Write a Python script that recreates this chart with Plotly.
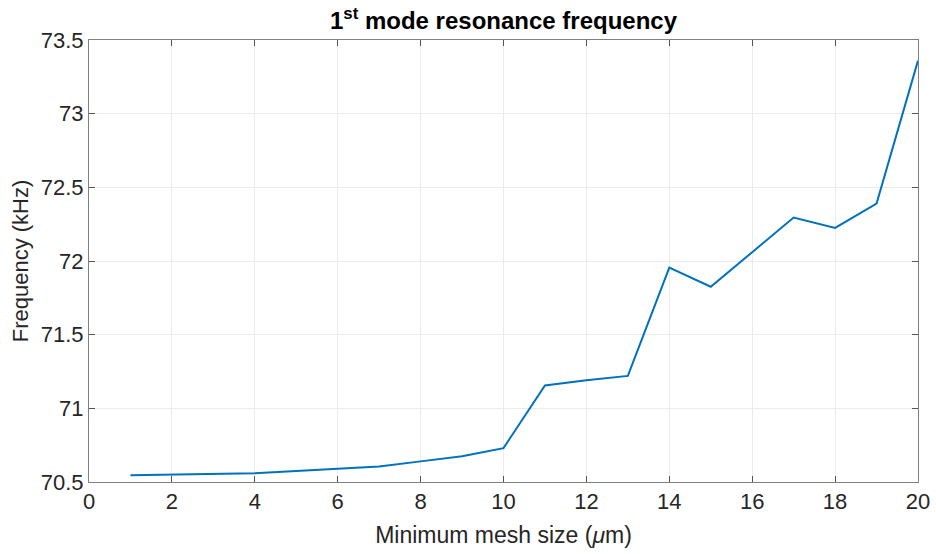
import plotly.graph_objects as go

mesh_size = [1, 2, 3, 4, 5, 6, 7, 8, 9, 10, 11, 12, 13, 14, 15, 16, 17, 18, 19, 20]
frequency = [70.545, 70.55, 70.55, 70.56, 70.575, 70.59, 70.605, 70.64, 70.675, 70.73,
             71.155, 71.19, 71.22, 71.955, 71.825, 72.06, 72.295, 72.225, 72.39, 73.36]

x_ticks = [0, 2, 4, 6, 8, 10, 12, 14, 16, 18, 20]
y_ticks = [70.5, 71, 71.5, 72, 72.5, 73, 73.5]
y_ticktext = ["70.5", "71", "71.5", "72", "72.5", "73", "73.5"]

font_family = "Liberation Sans, Arial, sans-serif"
axis_color = "#262626"

fig = go.Figure()
fig.add_trace(go.Scatter(x=mesh_size, y=frequency, mode="lines",
                         line=dict(color="#0072BD", width=2)))

axis_common = dict(showline=True, linecolor="#808080", linewidth=1, mirror="ticks",
                   ticks="inside", ticklen=6, tickcolor="#555555",
                   showgrid=True, gridcolor="#ebebeb", gridwidth=1, zeroline=False,
                   automargin=False,
                   tickfont=dict(family=font_family, size=22, color=axis_color))

fig.update_layout(
    width=936, height=554,
    margin=dict(l=89, r=18, t=40, b=72, autoexpand=False),
    paper_bgcolor="white", plot_bgcolor="white",
    showlegend=False,
    title=dict(text="<b>1<sup>st</sup> mode resonance frequency</b>",
               x=0.5, xref="paper", xanchor="center", y=0.978, yanchor="top",
               font=dict(family=font_family, size=24, color="black")),
    xaxis=dict(range=[0, 20], tickvals=x_ticks,
               title=dict(text="Minimum mesh size (<i>μ</i>m)", standoff=13,
                          font=dict(family=font_family, size=23, color=axis_color)),
               **axis_common),
    yaxis=dict(range=[70.5, 73.5], tickvals=y_ticks, ticktext=y_ticktext,
               title=dict(text="Frequency (kHz)", standoff=6,
                          font=dict(family=font_family, size=22, color=axis_color)),
               **axis_common),
)

fig.write_html("out.html")
